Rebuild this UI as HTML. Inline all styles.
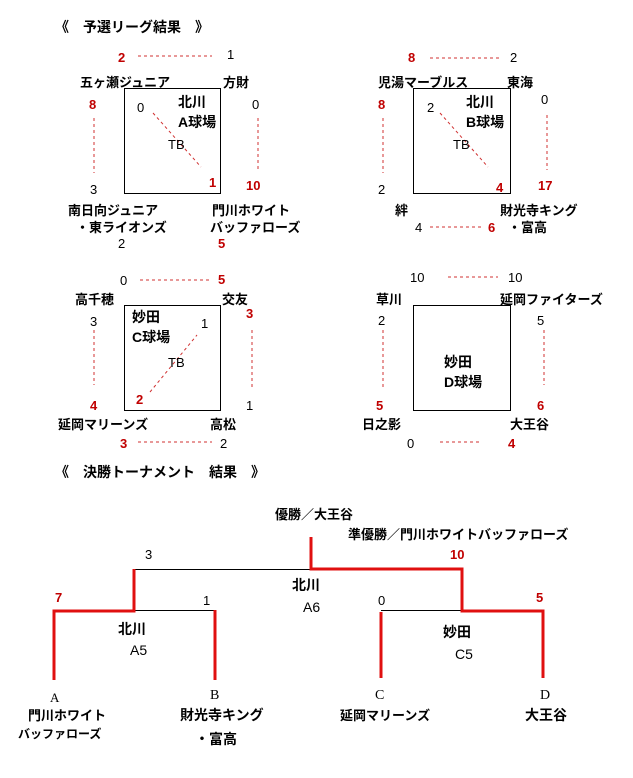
<!DOCTYPE html>
<html><head><meta charset="utf-8"><style>
body{margin:0;background:#fff;}
#c{position:relative;width:633px;height:778px;overflow:hidden;font-family:"Liberation Sans","Noto Sans CJK JP",sans-serif;font-size:13px;color:#000;}
.t{position:absolute;white-space:nowrap;line-height:15px;}
.r{color:#c00000;font-weight:bold;}
.b{font-weight:bold;}
svg{position:absolute;left:0;top:0;}
</style></head><body><div id="c">
<svg width="633" height="778">
<g fill="none" stroke="#000" stroke-width="1">
<rect x="124.5" y="88.5" width="96" height="105"/>
<rect x="413.5" y="88.5" width="97" height="105"/>
<rect x="124.5" y="305.5" width="96" height="105"/>
<rect x="413.5" y="305.5" width="97" height="105"/>
</g>
<g stroke="#d03030" stroke-width="1" stroke-dasharray="3,3">
<line x1="138" y1="56" x2="212" y2="56"/>
<line x1="94" y1="118" x2="94" y2="173"/>
<line x1="258" y1="118" x2="258" y2="172"/>
<line x1="153" y1="113" x2="201" y2="167"/>
<line x1="430" y1="58" x2="500" y2="58"/>
<line x1="383" y1="118" x2="383" y2="173"/>
<line x1="547" y1="115" x2="547" y2="170"/>
<line x1="440" y1="113" x2="488" y2="167"/>
<line x1="430" y1="227" x2="482" y2="227"/>
<line x1="140" y1="280" x2="210" y2="280"/>
<line x1="94" y1="330" x2="94" y2="385"/>
<line x1="252" y1="330" x2="252" y2="390"/>
<line x1="150" y1="392" x2="197" y2="335"/>
<line x1="138" y1="442" x2="212" y2="442"/>
<line x1="448" y1="277" x2="498" y2="277"/>
<line x1="383" y1="330" x2="383" y2="390"/>
<line x1="544" y1="330" x2="544" y2="385"/>
<line x1="440" y1="442" x2="480" y2="442"/>
</g>
<g stroke="#000" stroke-width="1">
<line x1="134" y1="569.5" x2="311" y2="569.5"/>
<line x1="134" y1="610.5" x2="215" y2="610.5"/>
<line x1="381" y1="610.5" x2="462" y2="610.5"/>
</g>
<g stroke="#e01010" stroke-width="3" fill="none">
<polyline points="311,537 311,569 462,569 462,611 543,611 543,678"/>
<polyline points="134,569 134,611 54,611 54,680"/>
<line x1="215" y1="610" x2="215" y2="680"/>
<line x1="381" y1="612" x2="381" y2="678"/>
</g>
</svg>
<div class="t b" style="left:55px;top:20px;font-size:14px">《　予選リーグ結果　》</div>
<div class="t r" style="left:118px;top:50px">2</div><div class="t" style="left:227px;top:47px">1</div>
<div class="t b" style="left:80px;top:75px">五ヶ瀬ジュニア</div><div class="t b" style="left:223px;top:75px">方財</div>
<div class="t r" style="left:89px;top:97px">8</div><div class="t" style="left:90px;top:182px">3</div>
<div class="t" style="left:137px;top:100px">0</div><div class="t b" style="left:178px;top:95px;font-size:14px">北川</div><div class="t b" style="left:178px;top:115px;font-size:14px">A球場</div>
<div class="t" style="left:168px;top:137px">TB</div><div class="t r" style="left:209px;top:175px">1</div>
<div class="t" style="left:252px;top:97px">0</div><div class="t r" style="left:246px;top:178px">10</div>
<div class="t b" style="left:68px;top:203px">南日向ジュニア</div><div class="t b" style="left:76px;top:220px">・東ライオンズ</div><div class="t" style="left:118px;top:236px">2</div>
<div class="t b" style="left:212px;top:203px">門川ホワイト</div><div class="t b" style="left:210px;top:220px">バッファローズ</div><div class="t r" style="left:218px;top:236px">5</div>

<div class="t r" style="left:408px;top:50px">8</div><div class="t" style="left:510px;top:50px">2</div>
<div class="t b" style="left:378px;top:75px">児湯マーブルス</div><div class="t b" style="left:507px;top:75px">東海</div>
<div class="t r" style="left:378px;top:97px">8</div><div class="t" style="left:378px;top:182px">2</div>
<div class="t" style="left:427px;top:100px">2</div><div class="t b" style="left:466px;top:95px;font-size:14px">北川</div><div class="t b" style="left:466px;top:115px;font-size:14px">B球場</div>
<div class="t" style="left:453px;top:137px">TB</div><div class="t r" style="left:496px;top:180px">4</div>
<div class="t" style="left:541px;top:92px">0</div><div class="t r" style="left:538px;top:178px">17</div>
<div class="t b" style="left:395px;top:203px">絆</div><div class="t b" style="left:500px;top:203px">財光寺キング</div>
<div class="t" style="left:415px;top:220px">4</div><div class="t r" style="left:488px;top:220px">6</div><div class="t b" style="left:508px;top:220px">・富高</div>

<div class="t" style="left:120px;top:273px">0</div><div class="t r" style="left:218px;top:272px">5</div>
<div class="t b" style="left:75px;top:292px">高千穂</div><div class="t b" style="left:222px;top:292px">交友</div>
<div class="t" style="left:90px;top:314px">3</div><div class="t r" style="left:90px;top:398px">4</div>
<div class="t b" style="left:132px;top:310px;font-size:14px">妙田</div><div class="t b" style="left:132px;top:330px;font-size:14px">C球場</div>
<div class="t" style="left:201px;top:316px">1</div><div class="t" style="left:168px;top:355px">TB</div><div class="t r" style="left:136px;top:392px">2</div>
<div class="t r" style="left:246px;top:306px">3</div><div class="t" style="left:246px;top:398px">1</div>
<div class="t b" style="left:58px;top:417px">延岡マリーンズ</div><div class="t b" style="left:210px;top:417px">高松</div>
<div class="t r" style="left:120px;top:436px">3</div><div class="t" style="left:220px;top:436px">2</div>

<div class="t" style="left:410px;top:270px">10</div><div class="t" style="left:508px;top:270px">10</div>
<div class="t b" style="left:376px;top:292px">草川</div><div class="t b" style="left:500px;top:292px">延岡ファイターズ</div>
<div class="t" style="left:378px;top:313px">2</div><div class="t r" style="left:376px;top:398px">5</div>
<div class="t" style="left:537px;top:313px">5</div><div class="t r" style="left:537px;top:398px">6</div>
<div class="t b" style="left:444px;top:355px;font-size:14px">妙田</div><div class="t b" style="left:444px;top:375px;font-size:14px">D球場</div>
<div class="t b" style="left:362px;top:417px">日之影</div><div class="t b" style="left:510px;top:417px">大王谷</div>
<div class="t" style="left:407px;top:436px">0</div><div class="t r" style="left:508px;top:436px">4</div>

<div class="t b" style="left:55px;top:465px;font-size:14px">《　決勝トーナメント　結果　》</div>
<div class="t b" style="left:275px;top:507px">優勝／大王谷</div>
<div class="t b" style="left:348px;top:527px">準優勝／門川ホワイトバッファローズ</div>
<div class="t" style="left:145px;top:547px">3</div><div class="t r" style="left:450px;top:547px">10</div>
<div class="t b" style="left:292px;top:578px;font-size:14px">北川</div><div class="t" style="left:303px;top:600px;font-size:14px">A6</div>
<div class="t r" style="left:55px;top:590px">7</div><div class="t" style="left:203px;top:593px">1</div>
<div class="t" style="left:378px;top:593px">0</div><div class="t r" style="left:536px;top:590px">5</div>
<div class="t b" style="left:118px;top:622px;font-size:14px">北川</div><div class="t" style="left:130px;top:643px;font-size:14px">A5</div>
<div class="t b" style="left:443px;top:625px;font-size:14px">妙田</div><div class="t" style="left:455px;top:647px;font-size:14px">C5</div>
<div class="t" style="left:50px;top:690px;font-family:'Liberation Serif',serif">A</div>
<div class="t b" style="left:28px;top:708px">門川ホワイト</div><div class="t b" style="left:18px;top:727px;font-size:12px">バッファローズ</div>
<div class="t" style="left:210px;top:688px;font-family:'Liberation Serif',serif;font-size:14px">B</div>
<div class="t b" style="left:180px;top:708px;font-size:14px">財光寺キング</div><div class="t b" style="left:195px;top:732px;font-size:14px">・富高</div>
<div class="t" style="left:375px;top:688px;font-family:'Liberation Serif',serif;font-size:14px">C</div>
<div class="t b" style="left:340px;top:708px">延岡マリーンズ</div>
<div class="t" style="left:540px;top:688px;font-family:'Liberation Serif',serif;font-size:14px">D</div>
<div class="t b" style="left:525px;top:708px;font-size:14px">大王谷</div>
</div></body></html>
